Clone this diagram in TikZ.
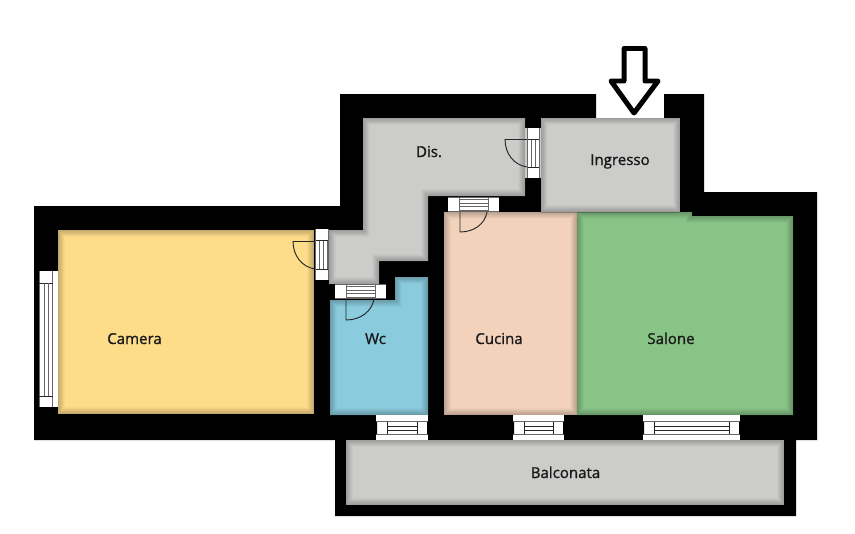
\documentclass[tikz,border=0pt]{standalone}
\usepackage{fontspec}
\setmainfont[FakeBold=1.2]{Open Sans}
\definecolor{camerac}{HTML}{FDDC8A}
\definecolor{wcc}{HTML}{8ACBDD}
\definecolor{cucinac}{HTML}{F3D2BC}
\definecolor{salonec}{HTML}{89C487}
\definecolor{grayc}{HTML}{CCCCCA}
\tikzset{
	label/.style={font=\fontsize{11.3}{12}\selectfont,text=black!90,inner sep=0pt,anchor=base},
	thin line/.style={line width=0.5pt,black!60},
	door line/.style={line width=0.7pt,black!85},
}
\newcommand{\room}[2]{
	\fill[#1] #2;
	\begin{scope}
		\clip #2;
		\foreach \w in {10,9,8,7,6,5,4,3,2,1}
			\draw[black,opacity=0.022,line width=\w] #2;
	\end{scope}
}
\newcommand{\winh}[4]{
	\fill[white] (#1,#3) rectangle (#2,#4);
	\foreach \y in {0,1,2,3}
		\draw[thin line] (#1+11,#3+2+\y*3.9) -- (#2-11,#3+2+\y*3.9);
	\draw[thin line] (#1,#3+0.5) -- (#2,#3+0.5) (#1,#4-0.5) -- (#2,#4-0.5);
	\draw[thin line] (#1+11,#3+1) -- (#1+11,#4-1);
	\draw[thin line] (#2-11,#3+1) -- (#2-11,#4-1);
}
\newcommand{\winv}[4]{
	\fill[white] (#1,#3) rectangle (#2,#4);
	\foreach \x in {0,1,2,3}
		\draw[thin line] (#1+0.5+\x*3.9,#3+11) -- (#1+0.5+\x*3.9,#4-11);
	\draw[thin line] (#1+0.5,#3) -- (#1+0.5,#4) (#2-0.5,#3) -- (#2-0.5,#4);
	\draw[door line] (#1+1,#3+11) -- (#2-1,#3+11);
	\draw[door line] (#1+1,#4-11) -- (#2-1,#4-11);
}
\newcommand{\winb}[2]{
	\fill[white] (#1,415) rectangle (#2,440);
	\fill[black] (#1,421.5) rectangle (#1+1,434) (#2-1,421.5) rectangle (#2,434);
	\draw[thin line] (#1,421.5) -- (#2,421.5) (#1,434) -- (#2,434);
	\foreach \y in {426,430}
		\draw[door line] (#1+11,\y) -- (#2-11,\y);
	\draw[door line] (#1+11,421.5) -- (#1+11,434);
	\draw[door line] (#2-11,421.5) -- (#2-11,434);
}
\begin{document}
\begin{tikzpicture}[x=0.0264cm,y=-0.0264cm]
	\useasboundingbox (0,0) rectangle (855,534);
	\fill[black] (34,206) -- (340,206) -- (340,94) -- (596,94) -- (596,118) -- (664,118) -- (664,94) -- (704,94) -- (704,192) -- (817,192) -- (817,440) -- (796,440) -- (796,516) -- (335,516) -- (335,440) -- (34,440) -- cycle;
	\room{camerac}{(58,230) -- (314,230) -- (314,414) -- (58,414) -- cycle}
	\room{wcc}{(330,300) -- (395,300) -- (395,277) -- (428,277) -- (428,415) -- (330,415) -- cycle}
	\room{cucinac}{(444,212) -- (577,212) -- (577,415) -- (444,415) -- cycle}
	\room{salonec}{(577,212) -- (692,212) -- (692,216) -- (793,216) -- (793,415) -- (577,415) -- cycle}
	\room{grayc}{(363,118) -- (525,118) -- (525,196) -- (428,196) -- (428,261) -- (379,261) -- (379,284) -- (329,284) -- (329,230) -- (363,230) -- cycle}
	\room{grayc}{(541,118) -- (680,118) -- (680,212) -- (541,212) -- cycle}
	\room{grayc}{(346,440) -- (784,440) -- (784,505) -- (346,505) -- cycle}
	\fill[grayc] (525,128) rectangle (541,178);
	\winb{376}{428}
	\winb{513}{564}
	\winb{643}{740}
	\fill[white] (39,271) rectangle (58,407);
	\draw[thin line] (39,271) -- (39,407) (52.5,271) -- (52.5,407);
	\draw[door line] (39,283) -- (52.5,283) (39,396) -- (52.5,396);
	\draw[thin line] (44,283) -- (44,396) (48,283) -- (48,396);
	\winv{315}{329}{229}{280}
	\winv{527}{539.5}{128}{178}
	\winh{448}{499}{197}{212}
	\winh{335}{386}{284}{299}
	\draw[door line] (293,241) -- (315,241);
	\draw[door line] (293,241) .. controls (293,256) and (302,267) .. (315,269);
	\draw[door line] (505,139) -- (527,139);
	\draw[door line] (505,139) .. controls (505,154) and (514,165) .. (527,167);
	\draw[door line] (487,212) .. controls (485,224) and (474,232) .. (460,232) -- (460,212);
	\draw[door line] (374,299) .. controls (372,311) and (361,320) .. (346,320) -- (346,299);
	\draw[line width=3.75pt,black,line join=round] (624,48.5) -- (645,48.5) -- (645,81) -- (658,81) -- (634,113) -- (611,81) -- (624,81) -- cycle;
	\node[label] (dis) at (429,157) {Dis.};
	\node[label] (ingresso) at (620,165) {Ingresso};
	\node[label] (camera) at (134.5,344) {Camera};
	\node[label] (wc) at (375.5,344) {Wc};
	\node[label] (cucina) at (499,344) {Cucina};
	\node[label] (salone) at (671,344) {Salone};
	\node[label] (balconata) at (565.5,478) {Balconata};
\end{tikzpicture}
\end{document}
